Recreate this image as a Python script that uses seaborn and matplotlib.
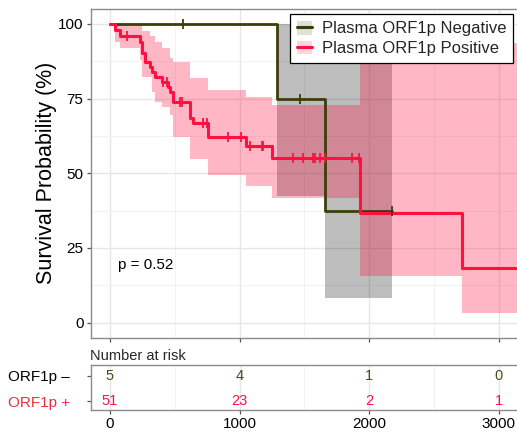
import numpy as np
import pandas as pd
import seaborn as sns
import matplotlib
matplotlib.use("Agg")
import matplotlib.pyplot as plt
from matplotlib.patches import Patch
from matplotlib.lines import Line2D
from matplotlib.legend_handler import HandlerTuple

# ---------------- data ----------------
pos_times = [0, 38, 77, 231, 244, 270, 308, 321, 347, 398, 450, 463, 488, 617, 642, 758, 1046, 1247, 1928, 2712]
pos_surv = [100, 98.0, 96.1, 94.1, 90.2, 87.4, 85.7, 84.0, 82.4, 80.7, 79.0, 77.3, 73.9, 68.4, 66.7, 62.2, 59.0, 55.2, 36.8, 18.4]
pos_lower = [100, 94.1, 91.9, 88.0, 82.4, 82.4, 82.4, 77.3, 73.9, 72.3, 72.3, 69.5, 62.2, 54.9, 54.9, 49.3, 45.9, 41.7, 15.6, 3.2]
pos_upper = [100, 100, 100, 100, 97.5, 97.5, 95.8, 95.8, 93.8, 91.9, 91.9, 88.5, 87.4, 81.8, 81.8, 77.9, 75.6, 73.0, 93.7, 93.7]
pos_end = 3255
pos_censor = [128, 411, 437, 540, 553, 720, 745, 912, 1010, 1079, 1169, 1180,
              1414, 1491, 1568, 1581, 1619, 1658, 1864, 1920]

neg_times = [0, 1285, 1658]
neg_surv = [100, 75.0, 37.5]
neg_lower = [100, 42.4, 8.1]
neg_upper = [100, 100, 100]
neg_end = 2174
neg_censor = [565, 1465, 2174]

risk_times = [0, 1000, 2000, 3000]
neg_risk = [5, 4, 1, 0]
pos_risk = [51, 23, 2, 1]

labels = ["Plasma ORF1p Negative", "Plasma ORF1p Positive"]
row_labels = ["ORF1p \u2013", "ORF1p +"]
p_text = "p = 0.52"

# ---------------- style ----------------
sns.set_theme(style="whitegrid")
plt.rcParams["font.family"] = ["Liberation Sans", "DejaVu Sans"]

RED = "#FF1040"
OLIVE = "#3D3D0A"
OLIVE_TXT = "#4A4A1F"
LABEL_RED = "#E5323F"

W, H = 517, 438
fig = plt.figure(figsize=(W / 100, H / 100), dpi=100)
ax = fig.add_axes([90.5 / W, 1 - 337.6 / H, 441.5 / W, 328.6 / H])
tax = fig.add_axes([90.5 / W, 1 - 410 / H, 441.5 / W, 45 / H])


def step_value(times, vals, t):
    idx = np.searchsorted(times, t, side="right") - 1
    return np.asarray(vals)[idx]


# confidence bands
nt = neg_times + [neg_end]
ax.fill_between(nt, neg_lower + [neg_lower[-1]], neg_upper + [neg_upper[-1]],
                step="post", color="black", alpha=0.26, lw=0, zorder=1)
pt = pos_times + [pos_end]
ax.fill_between(pt, pos_lower + [pos_lower[-1]], pos_upper + [pos_upper[-1]],
                step="post", color=RED, alpha=0.3, lw=0, zorder=2)

# survival curves
neg_df = pd.DataFrame({"t": nt, "s": neg_surv + [neg_surv[-1]]})
pos_df = pd.DataFrame({"t": pt, "s": pos_surv + [pos_surv[-1]]})
sns.lineplot(data=neg_df, x="t", y="s", drawstyle="steps-post", estimator=None,
             sort=False, color=OLIVE, lw=2.0, ax=ax, zorder=3)
sns.lineplot(data=pos_df, x="t", y="s", drawstyle="steps-post", estimator=None,
             sort=False, color=RED, lw=2.2, ax=ax, zorder=4)

# censor marks
sns.scatterplot(x=neg_censor, y=step_value(neg_times, neg_surv, neg_censor),
                marker="|", s=45, linewidth=1.3, color=OLIVE, ax=ax, zorder=5)
sns.scatterplot(x=pos_censor, y=step_value(pos_times, pos_surv, pos_censor),
                marker="|", s=45, linewidth=1.3, color=RED, ax=ax, zorder=6)

ax.set_xlim(-150, 3255)
ax.set_ylim(-5, 105)
ax.set_xticks([0, 1000, 2000, 3000])
ax.set_xticklabels([])
ax.set_xticks([500, 1500, 2500], minor=True)
ax.set_yticks([0, 25, 50, 75, 100])
ax.set_yticks([12.5, 37.5, 62.5, 87.5], minor=True)
ax.set_axisbelow(True)
ax.grid(which="major", color="#E6E6E6", lw=1.0)
ax.grid(which="minor", color="#F2F2F2", lw=0.7)
ax.tick_params(which="major", length=3, width=0.9, color="#555555", labelsize=11,
               pad=2, bottom=True, left=True, labelcolor="black")
ax.tick_params(which="minor", length=0)
for s in ax.spines.values():
    s.set_color("#8A8A8A")
    s.set_linewidth(1.0)
ax.set_xlabel("")
ax.set_ylabel("Survival Probability (%)", fontsize=15.5, labelpad=1, color="black")
ax.text(64, 19.3, p_text, fontsize=11, ha="left", va="center", color="black")

handles = [
    (Patch(facecolor="#E0E0D6", edgecolor="none"), Line2D([], [], color=OLIVE, lw=2.2)),
    (Patch(facecolor="#FFD6DE", edgecolor="none"), Line2D([], [], color=RED, lw=2.2)),
]
leg = ax.legend(handles, labels, handler_map={tuple: HandlerTuple(ndivide=1, pad=0)},
                loc="upper right", bbox_to_anchor=(513.3 / W, 1 - 14 / H),
                bbox_transform=fig.transFigure, frameon=True, fancybox=False,
                edgecolor="black", framealpha=1, fontsize=12, handlelength=0.9,
                handleheight=0.9, handletextpad=0.6, borderpad=0.4,
                labelspacing=0.25, borderaxespad=0)
leg.get_frame().set_linewidth(0.9)
leg.set_zorder(10)

# ---------------- risk table ----------------
tax.set_xlim(-150, 3255)
tax.set_ylim(-0.36, 1.44)
for t, n in zip(risk_times, neg_risk):
    tax.text(t, 1, str(n), ha="center", va="center", color=OLIVE_TXT, fontsize=10.5)
for t, n in zip(risk_times, pos_risk):
    tax.text(t, 0, str(n), ha="center", va="center", color=RED, fontsize=10.5)
tax.set_xticks([0, 1000, 2000, 3000])
tax.set_xticks([500, 1500, 2500], minor=True)
tax.set_yticks([1, 0])
tax.set_yticklabels(row_labels)
tax.get_yticklabels()[0].set_color("black")
tax.get_yticklabels()[1].set_color(LABEL_RED)
tax.grid(axis="x", which="major", color="#E6E6E6", lw=1.0)
tax.grid(axis="x", which="minor", color="#F2F2F2", lw=0.7)
tax.grid(axis="y", visible=False)
tax.tick_params(axis="x", which="major", length=3, width=0.9, color="#555555",
                labelsize=11, pad=2, bottom=True, labelcolor="black")
tax.tick_params(axis="y", which="major", length=3, width=0.9, color="#555555",
                labelsize=11, pad=12, left=True)
tax.tick_params(which="minor", length=0)
for s in tax.spines.values():
    s.set_color("#8A8A8A")
    s.set_linewidth(1.0)
tax.set_xlabel("")
tax.set_ylabel("")
fig.text(90.5 / W, 1 - 356 / H, "Number at risk", fontsize=10.5, ha="left", va="center")

fig.savefig("out.png", dpi=100)
